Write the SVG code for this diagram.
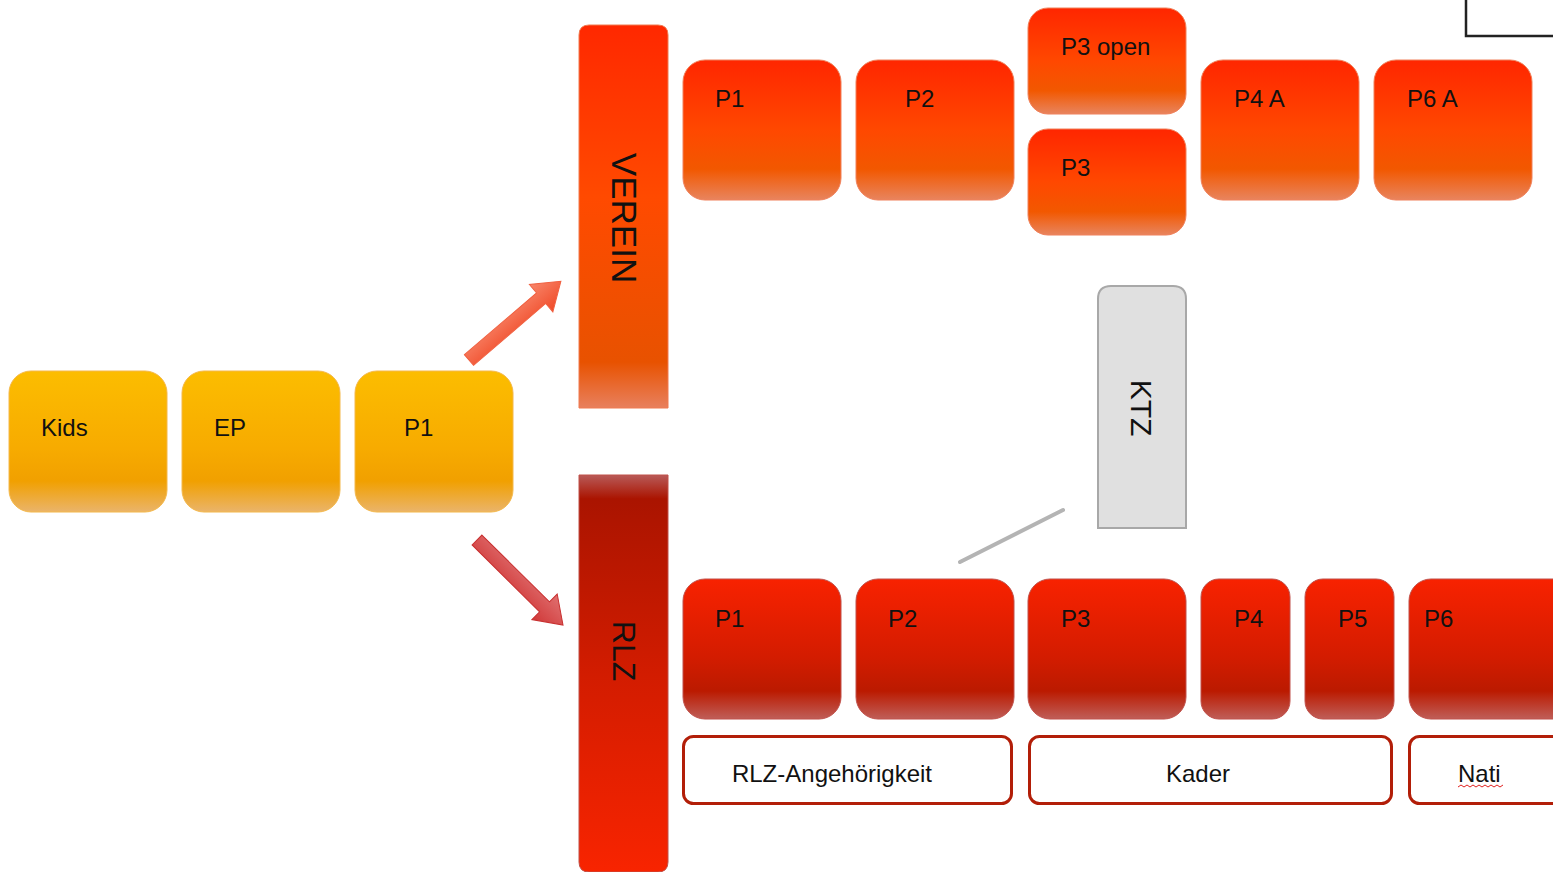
<svg xmlns="http://www.w3.org/2000/svg" width="1553" height="872" viewBox="0 0 1553 872">
<defs>
<linearGradient id="gY" x1="0" y1="0" x2="0" y2="1">
<stop offset="0" stop-color="#fcbd00"/><stop offset="0.55" stop-color="#f7ab00"/><stop offset="0.78" stop-color="#f1a000"/><stop offset="1" stop-color="#eab46a"/>
</linearGradient>
<linearGradient id="gO" x1="0" y1="0" x2="0" y2="1">
<stop offset="0" stop-color="#ff2600"/><stop offset="0.5" stop-color="#ff4800"/><stop offset="0.78" stop-color="#f25800"/><stop offset="1" stop-color="#e8845e"/>
</linearGradient>
<linearGradient id="gR" x1="0" y1="0" x2="0" y2="1">
<stop offset="0" stop-color="#f82200"/><stop offset="0.55" stop-color="#d41c00"/><stop offset="0.8" stop-color="#bb1a00"/><stop offset="1" stop-color="#bf5e58"/>
</linearGradient>
<linearGradient id="gV" x1="0" y1="0" x2="0" y2="1">
<stop offset="0" stop-color="#ff2800"/><stop offset="0.45" stop-color="#ff4a00"/><stop offset="0.88" stop-color="#e85200"/><stop offset="1" stop-color="#e8805e"/>
</linearGradient>
<linearGradient id="gRLZ" x1="0" y1="0" x2="0" y2="1">
<stop offset="0" stop-color="#b85a58"/><stop offset="0.06" stop-color="#aa1400"/><stop offset="0.5" stop-color="#d21c00"/><stop offset="1" stop-color="#f82400"/>
</linearGradient>
<linearGradient id="gAU" x1="0" y1="0" x2="0" y2="1">
<stop offset="0" stop-color="#f8866a"/><stop offset="1" stop-color="#f04a28"/>
</linearGradient>
<linearGradient id="gAD" x1="0" y1="0" x2="0" y2="1">
<stop offset="0" stop-color="#e07070"/><stop offset="1" stop-color="#d03838"/>
</linearGradient>
</defs>
<style>
.t{font-family:"Liberation Sans",Arial,sans-serif;font-size:24px;fill:#111}
.y{fill:url(#gY);stroke:#f4b84a;stroke-width:1}
.o{fill:url(#gO);stroke:#f0805a;stroke-width:1}
.r{fill:url(#gR);stroke:#c0504a;stroke-width:1}
.lbl{fill:#fff;stroke:#b21e08;stroke-width:3}
.bar{font-family:"Liberation Sans",Arial,sans-serif;fill:#111}
</style>

<g id="connectors">
<polygon transform="translate(469,360) rotate(-40.6)" points="0,-7 95,-7 95,-18 121,0 95,18 95,7 0,7" fill="url(#gAU)" stroke="#f06040" stroke-width="1"/>
<polygon transform="translate(477,540) rotate(44.7)" points="0,-7 95,-7 95,-18 121,0 95,18 95,7 0,7" fill="url(#gAD)" stroke="#c83030" stroke-width="1"/>
<line x1="960" y1="562" x2="1063" y2="510" stroke="#b4b4b4" stroke-width="4" stroke-linecap="round"/>
</g>

<g id="kids"><rect class="y" x="9" y="371" width="158" height="141" rx="22"/><text class="t" x="41" y="436">Kids</text></g>
<g id="ep"><rect class="y" x="182" y="371" width="158" height="141" rx="22"/><text class="t" x="214" y="436">EP</text></g>
<g id="p1-start"><rect class="y" x="355" y="371" width="158" height="141" rx="22"/><text class="t" x="404" y="436">P1</text></g>

<g id="verein"><path d="M579,408 V35 Q579,25 589,25 H658 Q668,25 668,35 V408 Z" fill="url(#gV)" stroke="#f07a50" stroke-width="1"/><text class="bar" font-size="35" text-anchor="middle" transform="translate(624,218) rotate(90)" y="12.5">VEREIN</text></g>

<g id="rlz"><path d="M579,475 H668 V862 Q668,872 658,872 H589 Q579,872 579,862 Z" fill="url(#gRLZ)" stroke="#c05048" stroke-width="1"/><text class="bar" font-size="32" text-anchor="middle" transform="translate(624,651) rotate(90)" y="11.5">RLZ</text></g>

<g id="v-p1"><rect class="o" x="683" y="60" width="158" height="140" rx="22"/><text class="t" x="715" y="107">P1</text></g>
<g id="v-p2"><rect class="o" x="856" y="60" width="158" height="140" rx="22"/><text class="t" x="905" y="107">P2</text></g>
<g id="v-p3open"><rect class="o" x="1028" y="8" width="158" height="106" rx="20"/><text class="t" x="1061" y="55">P3 open</text></g>
<g id="v-p3"><rect class="o" x="1028" y="129" width="158" height="106" rx="20"/><text class="t" x="1061" y="176">P3</text></g>
<g id="v-p4a"><rect class="o" x="1201" y="60" width="158" height="140" rx="22"/><text class="t" x="1234" y="107">P4 A</text></g>
<g id="v-p6a"><rect class="o" x="1374" y="60" width="158" height="140" rx="22"/><text class="t" x="1407" y="107">P6 A</text></g>

<g id="ktz"><path d="M1098,528 V299 Q1098,286 1111,286 H1173 Q1186,286 1186,299 V528 Z" fill="#e0e0e0" stroke="#a8a8a8" stroke-width="2"/><text class="bar" font-size="30" text-anchor="middle" transform="translate(1142,408) rotate(90)" y="11">KTZ</text></g>

<g id="topright"><path d="M1466,0 V36 H1553" fill="none" stroke="#222" stroke-width="2.5"/></g>

<g id="r-p1"><rect class="r" x="683" y="579" width="158" height="140" rx="22"/><text class="t" x="715" y="627">P1</text></g>
<g id="r-p2"><rect class="r" x="856" y="579" width="158" height="140" rx="22"/><text class="t" x="888" y="627">P2</text></g>
<g id="r-p3"><rect class="r" x="1028" y="579" width="158" height="140" rx="22"/><text class="t" x="1061" y="627">P3</text></g>
<g id="r-p4"><rect class="r" x="1201" y="579" width="89" height="140" rx="18"/><text class="t" x="1234" y="627">P4</text></g>
<g id="r-p5"><rect class="r" x="1305" y="579" width="89" height="140" rx="18"/><text class="t" x="1338" y="627">P5</text></g>
<g id="r-p6"><rect class="r" x="1409" y="579" width="170" height="140" rx="22"/><text class="t" x="1424" y="627">P6</text></g>

<g id="l-rlz"><rect class="lbl" x="683.5" y="736.5" width="328" height="67" rx="10"/><text class="t" x="832" y="782" text-anchor="middle">RLZ-Angehörigkeit</text></g>
<g id="l-kader"><rect class="lbl" x="1029.5" y="736.5" width="362" height="67" rx="10"/><text class="t" x="1198" y="782" text-anchor="middle">Kader</text></g>
<g id="l-nati"><rect class="lbl" x="1409.5" y="736.5" width="170" height="67" rx="10"/><text class="t" x="1458" y="782">Nati</text><path d="M1458,787 l3,-2 l3,2 l3,-2 l3,2 l3,-2 l3,2 l3,-2 l3,2 l3,-2 l3,2 l3,-2 l3,2 l3,-2 l3,2 l3,-2" fill="none" stroke="#e02020" stroke-width="1"/></g>
</svg>
